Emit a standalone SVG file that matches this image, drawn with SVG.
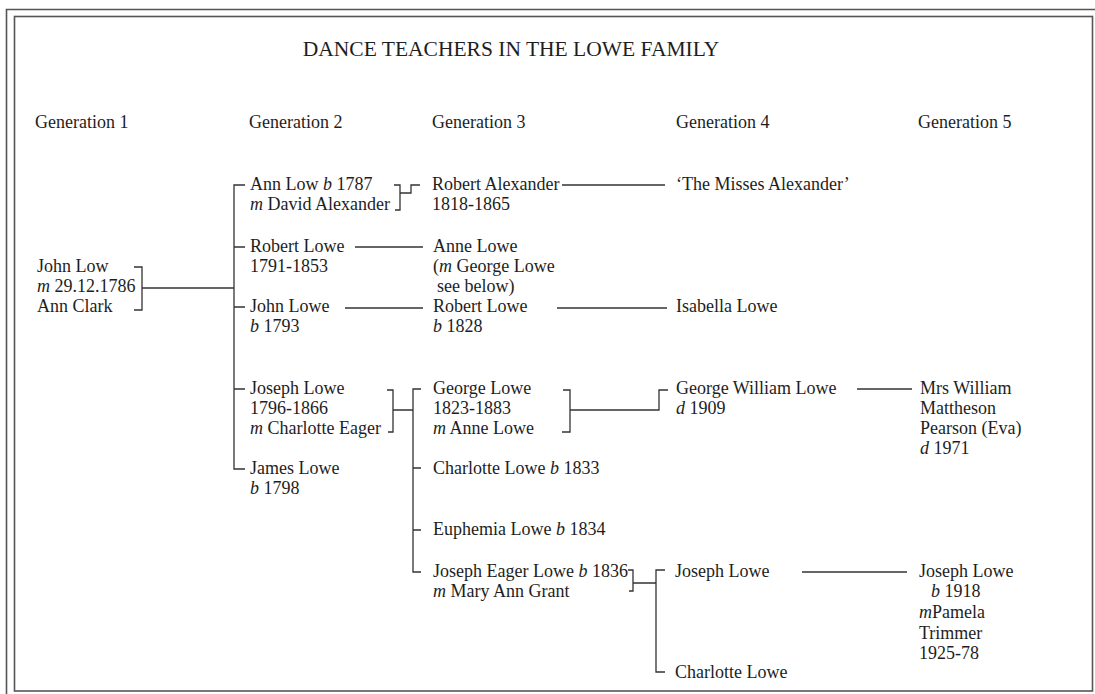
<svg xmlns="http://www.w3.org/2000/svg" width="1095" height="694" viewBox="0 0 1095 694">
<style>
text{font-family:"Liberation Serif","Times New Roman",serif;font-size:18px;fill:#1e1e1e}
.t{font-size:21.5px}
.i{font-style:italic}
.c path{fill:none;stroke:#333;stroke-width:1.3}
.b{fill:none;stroke:#555;stroke-width:1.6}
</style>
<rect width="1095" height="694" fill="#fff"/>
<g id="border">
<path class="b" d="M6.5,694 V9.5 H1095"/>
<rect class="b" x="14.5" y="16.5" width="1078" height="674.5"/>
</g>
<g id="title"><text class="t" x="511" y="56" text-anchor="middle">DANCE TEACHERS IN THE LOWE FAMILY</text></g>
<g id="headers">
<text x="35" y="128">Generation 1</text>
<text x="249" y="128">Generation 2</text>
<text x="432" y="128">Generation 3</text>
<text x="676" y="128">Generation 4</text>
<text x="918" y="128">Generation 5</text>
</g>
<g class="c" id="connectors">
<path d="M134,267 H142 V310 H134 M142,288 H234"/>
<path d="M245,185 H234 V469 H245 M234,247 H245 M234,307 H245 M234,389 H245"/>
<path d="M394,185 H400 V210 H395 M400,193 H411 V185 H420"/>
<path d="M562,185 H665"/>
<path d="M355,247 H423"/>
<path d="M345,308 H423"/>
<path d="M557,308 H667"/>
<path d="M387,390 H393 V432 H388 M393,410 H413"/>
<path d="M421,389 H413 V572 H421 M413,468 H421 M413,530 H421"/>
<path d="M563,390 H570 V432 H562 M570,410 H659 V390 H668"/>
<path d="M857,389 H912"/>
<path d="M628,570 H633 V591 H629 M633,583 H656"/>
<path d="M665,570 H656 V672 H665"/>
<path d="M802,572 H907"/>
</g>
<g id="john-low"><text x="37" y="272">John Low</text><text x="37" y="292"><tspan class="i">m</tspan> 29.12.1786</text><text x="37" y="312">Ann Clark</text></g>
<g id="ann-low"><text x="250" y="190">Ann Low <tspan class="i">b</tspan> 1787</text><text x="250" y="210"><tspan class="i">m</tspan> David Alexander</text></g>
<g id="robert-lowe-2"><text x="250" y="252">Robert Lowe</text><text x="250" y="272">1791-1853</text></g>
<g id="john-lowe"><text x="250" y="312">John Lowe</text><text x="250" y="332"><tspan class="i">b</tspan> 1793</text></g>
<g id="joseph-lowe-2"><text x="250" y="394">Joseph Lowe</text><text x="250" y="414">1796-1866</text><text x="250" y="434"><tspan class="i">m</tspan> Charlotte Eager</text></g>
<g id="james-lowe"><text x="250" y="474">James Lowe</text><text x="250" y="494"><tspan class="i">b</tspan> 1798</text></g>
<g id="robert-alexander"><text x="432" y="190">Robert Alexander</text><text x="432" y="210">1818-1865</text></g>
<g id="anne-lowe"><text x="433" y="252">Anne Lowe</text><text x="433" y="272">(<tspan class="i">m</tspan> George Lowe</text><text x="437" y="292">see below)</text></g>
<g id="robert-lowe-3"><text x="433" y="312">Robert Lowe</text><text x="433" y="332"><tspan class="i">b</tspan> 1828</text></g>
<g id="george-lowe"><text x="433" y="394">George Lowe</text><text x="433" y="414">1823-1883</text><text x="433" y="434"><tspan class="i">m</tspan> Anne Lowe</text></g>
<g id="charlotte-lowe-3"><text x="433" y="474">Charlotte Lowe <tspan class="i">b</tspan> 1833</text></g>
<g id="euphemia-lowe"><text x="433" y="535">Euphemia Lowe <tspan class="i">b</tspan> 1834</text></g>
<g id="joseph-eager-lowe"><text x="433" y="577">Joseph Eager Lowe <tspan class="i">b</tspan> 1836</text><text x="433" y="597"><tspan class="i">m</tspan> Mary Ann Grant</text></g>
<g id="misses-alexander"><text x="676" y="190">‘The Misses Alexander’</text></g>
<g id="isabella-lowe"><text x="676" y="312">Isabella Lowe</text></g>
<g id="george-william-lowe"><text x="676" y="394">George William Lowe</text><text x="676" y="414"><tspan class="i">d</tspan> 1909</text></g>
<g id="joseph-lowe-4"><text x="675" y="577">Joseph Lowe</text></g>
<g id="charlotte-lowe-4"><text x="675" y="678">Charlotte Lowe</text></g>
<g id="mrs-william"><text x="920" y="394">Mrs William</text><text x="920" y="414">Mattheson</text><text x="920" y="434">Pearson (Eva)</text><text x="920" y="454"><tspan class="i">d</tspan> 1971</text></g>
<g id="joseph-lowe-5"><text x="919" y="577">Joseph Lowe</text><text x="931" y="597"><tspan class="i">b</tspan> 1918</text><text x="919" y="618"><tspan class="i">m</tspan>Pamela</text><text x="919" y="639">Trimmer</text><text x="919" y="659">1925-78</text></g>
</svg>
